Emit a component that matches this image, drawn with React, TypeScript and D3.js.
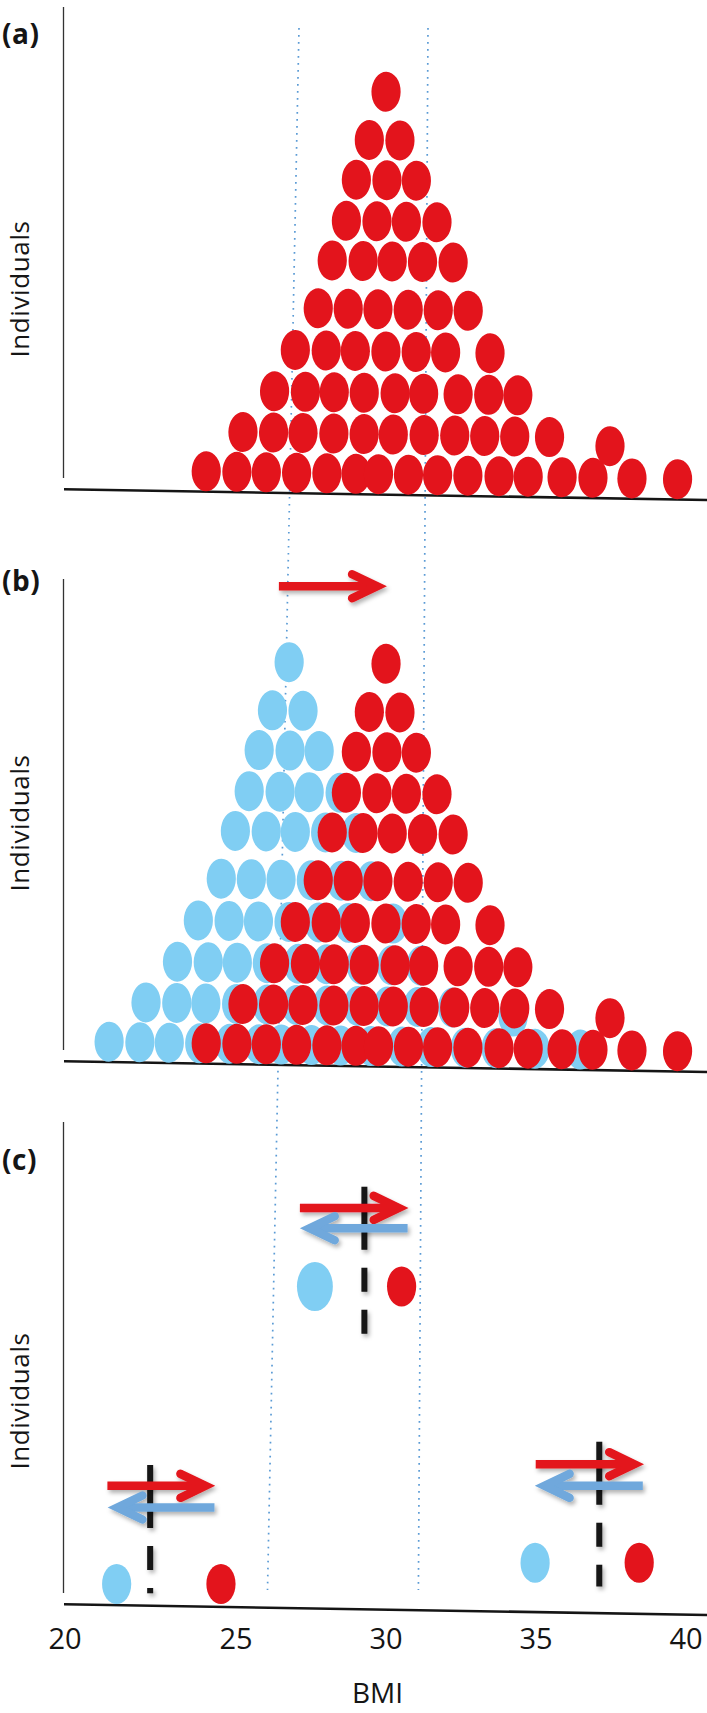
import React from "react";
import * as d3 from "d3";

// ---------- data ----------
const BMI_TICKS = [20, 25, 30, 35, 40];

// "Individuals" level of each row of dots (top row first)
const ROW_LEVELS = [10.0, 8.86, 7.92, 6.95, 6.01, 4.88, 3.89, 2.91, 1.94, 1.0];

// BMI of each red individual, per row (top row first)
const RED_ROWS: number[][] = [
  [29.78],
  [29.25, 30.27],
  [28.84, 29.86, 30.84],
  [28.53, 29.55, 30.53, 31.55],
  [28.08, 29.11, 30.08, 31.09, 32.11],
  [27.64, 28.64, 29.63, 30.64, 31.64, 32.64],
  [26.9, 27.93, 28.9, 29.92, 30.93, 31.91, 33.39],
  [26.23, 27.26, 28.22, 29.22, 30.25, 31.2, 32.35, 33.37, 34.34],
  [25.2, 26.22, 27.2, 28.23, 29.24, 30.21, 31.24, 32.26, 33.26, 34.26, 35.42],
  [24.12, 25.02, 26.0, 27.01, 28.02, 28.99, 29.74, 30.74, 31.71, 32.72, 33.76, 34.73, 35.86, 36.89, 38.19, 39.71],
];

// BMI of each light-blue individual, per row (top row first)
const BLUE_ROWS: number[][] = [
  [26.55],
  [26.02, 27.04],
  [25.6, 26.63, 27.6],
  [25.29, 26.32, 27.29, 28.32],
  [24.87, 25.88, 26.85, 27.86, 28.88],
  [24.48, 25.41, 26.4, 27.41, 28.41, 29.41],
  [23.83, 24.73, 25.67, 26.69, 27.69, 28.68, 30.16],
  [23.24, 24.14, 24.99, 25.99, 27.02, 27.97, 29.12, 30.13, 31.11],
  [22.34, 23.24, 24.09, 24.99, 26.01, 26.98, 28.01, 29.03, 30.02, 31.03, 32.19],
  [21.28, 22.18, 23.04, 23.93, 24.81, 25.76, 26.5, 27.51, 28.48, 29.49, 30.53, 31.5, 32.63, 33.66, 34.96, 36.47],
];

const RED_OUTLIER = [37.44];
const BLUE_OUTLIER = [34.21];
const OUTLIER_LEVEL = [1.75];

// dotted guide lines (BMI at top and bottom of the figure)
const GUIDE_TOP = [27.1, 31.4];
const GUIDE_BOTTOM = [26.05, 31.08];

// panel (b) shift arrow
const SHIFT_FROM = [26.43];
const SHIFT_TO = [29.97];
const SHIFT_LEVEL = [11.7];

// panel (c) pairs
const PAIR_BLUE = [21.51, 27.63, 34.97];
const PAIR_RED = [24.56, 30.52, 38.44];
const PAIR_LEVEL = [1, 8, 1.5];
const PAIR_BLUE_SIZE = [1, 1.23, 1];
const PAIR_MEAN = [22.49, 29.28, 37.11];
const MEAN_TOP = [3.8, 10.35, 4.35];
const MEAN_BOTTOM = [0.78, 6.88, 0.94];
const RED_ARROW_FROM = [21.24, 27.13, 34.99];
const RED_ARROW_TO = [24.34, 30.69, 38.54];
const RED_ARROW_LEVEL = [3.31, 9.85, 3.82];
const BLUE_ARROW_FROM = [24.37, 30.72, 38.56];
const BLUE_ARROW_TO = [21.3, 27.19, 35.02];
const BLUE_ARROW_LEVEL = [2.8, 9.37, 3.31];

const PANEL_LABELS = ["(a)", "(b)", "(c)"];

// ---------- style / layout ----------
const W = 707;
const H = 1713;
const RED = "#E3141C";
const LIGHT_BLUE = "#80CEF3";
const ARROW_BLUE = "#6FA8DC";
const GUIDE = "#5B9BD5";
const INK = "#151515";
const FONT = "'Open Sans', 'Liberation Sans', sans-serif";
const TILT = 0.95;
const RX = 14.6;
const RY = 20;
const PANEL_OFFSETS = [0, 572, 1115];
const LABEL_Y = [44, 591, 1170];
const IND_Y = [289, 823, 1401];
const IND_X = 29;

function Arrow({ x1, x2, y, color }: { x1: number; x2: number; y: number; color: string }) {
  const dir = Math.sign(x2 - x1);
  const v = x2 - dir * 8;
  return (
    <g filter="url(#shadow)">
      <line x1={x1} x2={v - dir * 2} y1={y} y2={y} stroke={color} strokeWidth={8.5} />
      <polyline
        points={`${v - dir * 25},${y - 12} ${v},${y} ${v - dir * 25},${y + 12}`}
        fill="none"
        stroke={color}
        strokeWidth={8.5}
        strokeLinecap="round"
        strokeLinejoin="miter"
      />
    </g>
  );
}

export default function App() {
  const x = d3.scaleLinear().domain([20, 25, 40]).range([65, 236, 686]);
  const yFor = (off: number) => d3.scaleLinear().domain([1, 10]).range([off + 469, off + 86.5]);
  const axisY = (off: number) => off + 489.3;

  const dots = (rows: number[][], y: d3.ScaleLinear<number, number>, fill: string, key: string) =>
    rows.flatMap((row, ri) =>
      row.map((b, i) => (
        <ellipse key={`${key}-${ri}-${i}`} cx={x(b)} cy={y(ROW_LEVELS[ri])} rx={RX} ry={RY} fill={fill} />
      ))
    );

  return (
    <svg
      width={W}
      height={H}
      viewBox={`0 0 ${W} ${H}`}
      style={{ position: "absolute", left: 0, top: 0, background: "#fff" }}
    >
      <defs>
        <filter id="shadow" filterUnits="userSpaceOnUse" x={0} y={0} width={W} height={H}>
          <feDropShadow dx={2} dy={3} stdDeviation={2} floodColor="#000" floodOpacity={0.3} />
        </filter>
      </defs>
      <rect width={W} height={H} fill="#fff" />

      {/* dotted guide lines */}
      {GUIDE_TOP.map((t, i) => (
        <line
          key={`g${i}`}
          x1={x(t)}
          x2={x(GUIDE_BOTTOM[i])}
          y1={28}
          y2={1590}
          stroke={GUIDE}
          strokeWidth={1.7}
          strokeDasharray="1.7 5.3"
        />
      ))}

      {/* panels a, b, c : y axes, labels */}
      {PANEL_OFFSETS.map((off, i) => (
        <g key={`p${i}`}>
          <line x1={63.5} x2={63.5} y1={off + 7} y2={off + 478} stroke="#333" strokeWidth={1.3} />
          <text x={2} y={LABEL_Y[i]} fontFamily={FONT} fontWeight={700} fontSize={28} letterSpacing={0.5} fill={INK}>
            {PANEL_LABELS[i]}
          </text>
          <text
            x={IND_X}
            y={IND_Y[i]}
            transform={`rotate(-90 ${IND_X} ${IND_Y[i]})`}
            textAnchor="middle"
            fontFamily={FONT}
            fontSize={26}
            letterSpacing={0.6}
            fill={INK}
          >
            Individuals
          </text>
        </g>
      ))}

      {/* panel a */}
      {(() => {
        const off = PANEL_OFFSETS[0];
        const y = yFor(off);
        return (
          <g transform={`rotate(${TILT} 64 ${axisY(off)})`}>
            <line x1={64} x2={715} y1={axisY(off)} y2={axisY(off)} stroke={INK} strokeWidth={2.6} />
            {dots(RED_ROWS, y, RED, "ra")}
            {RED_OUTLIER.map((b, i) => (
              <ellipse key={`rao${i}`} cx={x(b)} cy={y(OUTLIER_LEVEL[i])} rx={RX} ry={RY} fill={RED} />
            ))}
          </g>
        );
      })()}

      {/* panel b */}
      {(() => {
        const off = PANEL_OFFSETS[1];
        const y = yFor(off);
        return (
          <g>
            <g transform={`rotate(${TILT} 64 ${axisY(off)})`}>
              <line x1={64} x2={715} y1={axisY(off)} y2={axisY(off)} stroke={INK} strokeWidth={2.6} />
              {dots(BLUE_ROWS, y, LIGHT_BLUE, "bb")}
              {BLUE_OUTLIER.map((b, i) => (
                <ellipse key={`bbo${i}`} cx={x(b)} cy={y(OUTLIER_LEVEL[i])} rx={RX} ry={RY} fill={LIGHT_BLUE} />
              ))}
              {dots(RED_ROWS, y, RED, "rb")}
              {RED_OUTLIER.map((b, i) => (
                <ellipse key={`rbo${i}`} cx={x(b)} cy={y(OUTLIER_LEVEL[i])} rx={RX} ry={RY} fill={RED} />
              ))}
            </g>
            {SHIFT_FROM.map((f, i) => (
              <Arrow key={`sa${i}`} x1={x(f)} x2={x(SHIFT_TO[i])} y={y(SHIFT_LEVEL[i])} color={RED} />
            ))}
          </g>
        );
      })()}

      {/* panel c */}
      {(() => {
        const off = PANEL_OFFSETS[2];
        const y = yFor(off);
        return (
          <g>
            <g transform={`rotate(${TILT} 64 ${axisY(off)})`}>
              <line x1={64} x2={715} y1={axisY(off)} y2={axisY(off)} stroke={INK} strokeWidth={2.6} />
            </g>
            {PAIR_MEAN.map((m, i) => (
              <line
                key={`m${i}`}
                x1={x(m)}
                x2={x(m)}
                y1={y(MEAN_TOP[i])}
                y2={y(MEAN_BOTTOM[i])}
                stroke={INK}
                strokeWidth={6}
                strokeDasharray="63 18 24 18 24 18"
                filter="url(#shadow)"
              />
            ))}
            {RED_ARROW_FROM.map((f, i) => (
              <Arrow key={`ra${i}`} x1={x(f)} x2={x(RED_ARROW_TO[i])} y={y(RED_ARROW_LEVEL[i])} color={RED} />
            ))}
            {BLUE_ARROW_FROM.map((f, i) => (
              <Arrow key={`ba${i}`} x1={x(f)} x2={x(BLUE_ARROW_TO[i])} y={y(BLUE_ARROW_LEVEL[i])} color={ARROW_BLUE} />
            ))}
            {PAIR_BLUE.map((b, i) => (
              <ellipse
                key={`pb${i}`}
                cx={x(b)}
                cy={y(PAIR_LEVEL[i])}
                rx={RX * PAIR_BLUE_SIZE[i]}
                ry={RY * PAIR_BLUE_SIZE[i]}
                fill={LIGHT_BLUE}
              />
            ))}
            {PAIR_RED.map((b, i) => (
              <ellipse key={`pr${i}`} cx={x(b)} cy={y(PAIR_LEVEL[i])} rx={RX} ry={RY} fill={RED} />
            ))}
          </g>
        );
      })()}

      {/* x tick labels and title */}
      {BMI_TICKS.map((t) => (
        <text key={`t${t}`} x={x(t)} y={1649} textAnchor="middle" fontFamily={FONT} fontSize={29} fill={INK}>
          {t}
        </text>
      ))}
      <text x={377.5} y={1703} textAnchor="middle" fontFamily={FONT} fontSize={28} fill={INK}>
        BMI
      </text>
    </svg>
  );
}
